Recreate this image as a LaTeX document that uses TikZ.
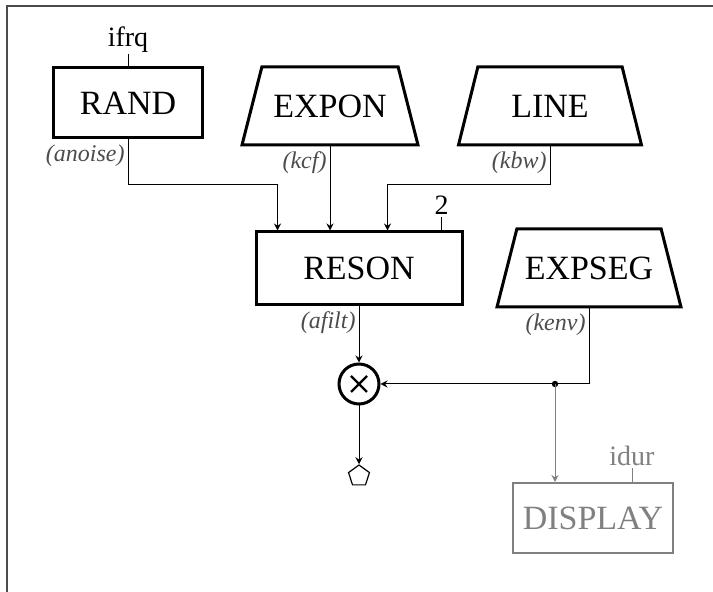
\documentclass[tikz,border=0pt]{standalone}
\usepackage{fontspec}
\setmainfont{Liberation Serif}
\usetikzlibrary{arrows.meta, shapes.geometric, calc}
\definecolor{FrameGray}{rgb}{0.3, 0.3, 0.3}
\definecolor{ScopeGray}{rgb}{0.5, 0.5, 0.5}

\begin{document}
\begin{tikzpicture}[x=0.5pt, y=-0.5pt, >={Stealth[length=3.5pt, width=3.5pt]}, line width=0.5pt,
    opbox/.style={draw, rectangle, line width=1.5pt, inner sep=0pt, font=\fontsize{17}{17}\selectfont},
    opgen/.style={draw, trapezium, trapezium left angle=49, trapezium right angle=49,
      trapezium stretches body=true, line width=1.5pt, inner sep=0pt, font=\fontsize{17}{17}\selectfont},
    mixer/.style={draw, circle, line width=1.5pt, minimum size=20pt, inner sep=0pt,
      path picture={
        \draw [line width=1.1pt] ([shift={(-4pt,-4pt)}]path picture bounding box.center) -- ([shift={(4pt,4pt)}]path picture bounding box.center);
        \draw [line width=1.1pt] ([shift={(-4pt,4pt)}]path picture bounding box.center) -- ([shift={(4pt,-4pt)}]path picture bounding box.center);}},
    outlet/.style={draw, regular polygon, regular polygon sides=5, minimum size=11pt, inner sep=0pt, line width=0.6pt},
    parm/.style={font=\fontsize{14}{14}\selectfont, inner sep=1pt},
    sig/.style={font=\fontsize{12}{12}\selectfont\itshape, text=black!70, inner sep=1pt, anchor=north east}]
  \useasboundingbox (0,0) rectangle (713,592);
  % Panel edges
  \draw [FrameGray, line width=1pt] (7,592) -- (7,6) -- (713,6);

  % Generators
  \node [opbox, minimum width=74.5pt, minimum height=35pt] (rand) at (128,103) {RAND};
  \node [opgen, minimum width=88pt, minimum height=39pt] (expon) at (330,106) {EXPON};
  \node [opgen, minimum width=91.5pt, minimum height=39pt] (line) at (550,106) {LINE};
  \draw (rand.north) -- ++(0,-12) node [parm, above] (ifrq) {ifrq};
  \node [sig] (anoise) at ($(rand.south)+(-1,3)$) {(anoise)};
  \node [sig] (kcf) at ($(expon.south)+(-1,3)$) {(kcf)};
  \node [sig] (kbw) at ($(line.south)+(-1,3)$) {(kbw)};

  % Filter
  \node [opbox, minimum width=103pt, minimum height=36.5pt] (reson) at (359,268.5) {RESON};
  \coordinate (r1) at ($(reson.north west)+(23,0)$);
  \coordinate (r3) at ($(reson.north west)+(133,0)$);
  \coordinate (r4) at ($(reson.north west)+(187,0)$);
  \draw [->] (rand.south) -- ++(0,45) -| (r1);
  \draw [->] (expon.south) -- (expon.south |- reson.north);
  \draw [->] (line.south) -- ++(0,38) -| (r3);
  \draw (r4) -- ++(0,-13) node [parm, above] (iscl) {2};
  \node [sig] (afilt) at ($(reson.south)+(-1,3)$) {(afilt)};

  % Envelope
  \node [opgen, minimum width=92pt, minimum height=39pt] (expseg) at (589,268) {EXPSEG};
  \node [sig] (kenv) at ($(expseg.south)+(-1,3)$) {(kenv)};

  % Multiply and output
  \node [mixer] (mult) at (359,384) {};
  \node [outlet] (out) at (359,476) {};
  \draw [->] (reson.south) -- (mult.north);
  \draw [->] (expseg.south) |- (mult.east);
  \draw [->] (mult.south) -- (out.north);

  % Display
  \node [opbox, ScopeGray, line width=1pt, minimum width=80pt, minimum height=35pt] (display) at (593,518) {DISPLAY};
  \coordinate (d1) at ($(display.north west)+(43,0)$);
  \coordinate (tap) at (d1 |- mult.east);
  \fill (tap) circle (1.6pt);
  \draw [->, ScopeGray] (tap) -- (d1);
  \draw [ScopeGray] ($(display.north west)+(120,0)$) -- ++(0,-14) node [parm, above, ScopeGray] (idur) {idur};
\end{tikzpicture}
\end{document}
